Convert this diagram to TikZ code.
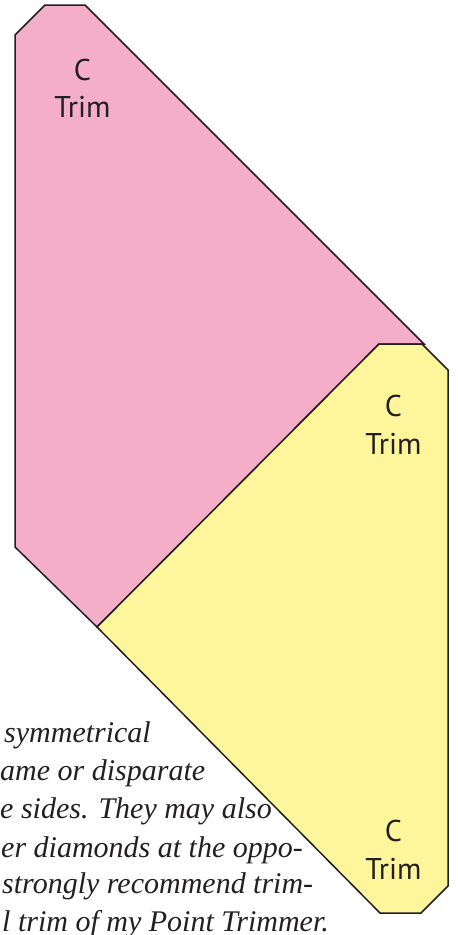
\documentclass[tikz,border=0pt]{standalone}
\usepackage{fontspec}
\setmainfont{Liberation Serif}
\newfontfamily\lblfont{PT Sans}
\definecolor{pinkfill}{RGB}{245,174,200}
\definecolor{yellowfill}{RGB}{255,245,154}
\definecolor{inkc}{RGB}{35,31,32}
\begin{document}
\begin{tikzpicture}[x=1pt,y=-1pt,
  piece/.style={draw=inkc,line width=1.5pt,line join=miter},
  trimlbl/.style={font=\lblfont\fontsize{30}{37}\selectfont,text=inkc,align=center,inner sep=0pt,anchor=base},
  bodytext/.style={font=\itshape\fontsize{30}{38}\selectfont,text=inkc,inner sep=0pt,anchor=base west}]
\useasboundingbox (0,0) rectangle (458,935);
% pink piece
\filldraw[piece,fill=pinkfill] (15,35) -- (45,5) -- (85,5) -- (424,344) -- (379,344) -- (97,627) -- (15,547) -- cycle;
% yellow piece
\filldraw[piece,fill=yellowfill] (97,627) -- (379,344) -- (422,344) -- (448,370) -- (448,886) -- (421,913) -- (380,913) -- cycle;
% labels
\node[trimlbl] (pC) at (82.5,80) {C};
\node[trimlbl] (pT) at (82.5,117) {Trim};
\node[trimlbl] (yC) at (393.5,416.5) {C};
\node[trimlbl] (yT) at (393.5,454) {Trim};
\node[trimlbl] (bC) at (393.5,841.5) {C};
\node[trimlbl] (bT) at (393.5,879) {Trim};
% text
\node[bodytext] (t1) at (4,742) {symmetrical};
\node[bodytext] (t2) at (0,780) {ame or disparate};
\node[bodytext] (t3) at (0,818) {e sides. They may also};
\node[bodytext] (t4) at (1,857) {er diamonds at the oppo-};
\node[bodytext] (t5) at (2,893) {strongly recommend trim-};
\node[bodytext] (t6) at (2,931) {l trim of my Point Trimmer.};
\end{tikzpicture}
\end{document}
